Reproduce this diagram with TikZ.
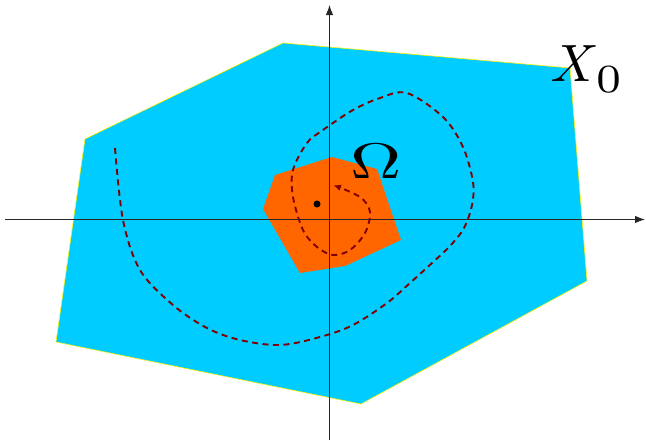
\documentclass[tikz,border=0pt]{standalone}
\usepackage{fontspec}
\usepackage{graphicx}
\usetikzlibrary{arrows.meta}
\newfontfamily\lmten{lmroman10-regular.otf}
\newfontfamily\lmtenit{lmroman10-italic.otf}
\newfontfamily\lmseven{lmroman7-regular.otf}
\definecolor{skyfill}{HTML}{00CCFF}
\definecolor{orangefill}{HTML}{FF6600}
\definecolor{pathred}{HTML}{800000}
\tikzset{
  axisline/.style={draw=black!85, line width=1pt, -{Latex[length=10pt,width=7.5pt]}},
  outerset/.style={fill=skyfill, draw=yellow, line width=0.6pt},
  innerset/.style={fill=orangefill, draw=none},
  trajectory/.style={draw=pathred, line width=1.9pt, dash pattern=on 6pt off 4.5pt},
  biglabel/.style={inner sep=0pt, anchor=base}
}
\begin{document}
\begin{tikzpicture}[x=1pt,y=-1pt]
\useasboundingbox (0,0) rectangle (646,440);
% outer set X_0
\draw[outerset] (283,43) -- (570,68) -- (587,281) -- (361,404) -- (56,342) -- (85,139) -- cycle;
% inner set Omega
\fill[innerset] (332,157) -- (377,169) -- (401,240) -- (345,266) -- (300,273) -- (263,209) -- (275,175) -- cycle;
% axes
\coordinate (xs) at (5,219.5);
\coordinate (xe) at (645,219.5);
\coordinate (ys) at (329.5,440);
\coordinate (ye) at (329.5,5);
\draw[axisline] (xs) -- (xe);
\draw[axisline] (ys) -- (ye);
% trajectory
\draw[trajectory, -{Latex[length=8pt,width=6.5pt]}] plot[smooth, tension=0.55] coordinates {
 (115,148) (123,220) (140,270) (173,305) (207,328) (240,340) (280,345) (320,337)
 (353,325) (387,303) (410,283) (432,263) (450,246) (464,228) (472,205) (473,182)
 (463,147) (443,117) (407,93)
 (380,98) (353,110) (323,130) (307,143) (293,170) (293,197) (303,230) (317,247)
 (333,255) (350,250) (365,233) (370,212) (360,197) (333,185)};
% equilibrium point
\fill[black] (317,204) circle (3.5pt);
% labels
\node[biglabel, font=\lmten\fontsize{50}{56}\selectfont] (omega) at (376,178) {\scalebox{1.42}[1]{Ω}};
\node[biglabel, font=\lmtenit\fontsize{52.5}{58}\selectfont] (xlab) at (571,81) {\scalebox{1.08}[1]{X}};
\node[biglabel, font=\lmseven\fontsize{40}{44}\selectfont] (zlab) at (609.5,92.5) {\scalebox{1.1}[1]{0}};
\end{tikzpicture}
\end{document}
